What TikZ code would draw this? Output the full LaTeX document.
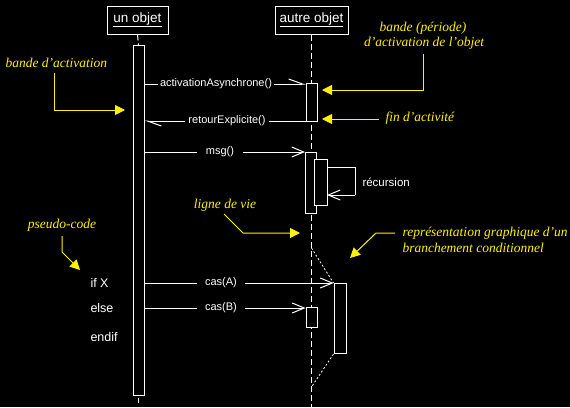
\documentclass[tikz,border=0pt]{standalone}
\usepackage{fontspec}
\setmainfont{Liberation Sans}
\newfontfamily\notefont{Liberation Serif}
\usetikzlibrary{arrows.meta}
\tikzset{
  objbox/.style={draw=white, text=white, inner sep=0pt, minimum height=28pt, font=\fontsize{13.5}{15}\selectfont},
  actbar/.style={draw=white, fill=black, inner sep=0pt, minimum width=11pt, anchor=north},
  msgtxt/.style={text=white, fill=black, inner ysep=1pt, font=\fontsize{11}{13}\selectfont},
  codetxt/.style={text=white, anchor=west, inner sep=0pt, font=\fontsize{12.5}{14}\selectfont},
  notetxt/.style={text=yellow, inner sep=0pt, font=\notefont\itshape\fontsize{13.5}{15}\selectfont},
  lifeline/.style={draw=white, dash pattern=on 6pt off 3pt},
  msgline/.style={draw=white, -{Straight Barb[length=12pt,width=10pt]}},
  asyncline/.style={draw=white, -{Straight Barb[left,length=14pt,width=10pt]}},
  pointer/.style={draw=yellow, -{Triangle[length=10pt,width=10pt]}},
  branch/.style={draw=white, line width=0.8pt, dash pattern=on 2pt off 2pt},
}
\begin{document}
\begin{tikzpicture}[x=1pt,y=-1pt,line width=1pt]
\fill[black] (0,0) rectangle (570,407);
\useasboundingbox (0,0) rectangle (570,407);

% objects
\node[objbox, minimum width=61pt] (o1) at (137.5,20) {\underline{un objet}};
\node[objbox, minimum width=73pt] (o2) at (311.5,20) {\underline{autre objet}};

% lifelines
\coordinate (l2end) at (311.5,407);
\draw[lifeline] (o2.south) -- (l2end);

% activation of un objet
\node[actbar, minimum height=350pt] (a1) at (138.5,45) {};
\draw[lifeline] (o1.south) -- (a1.north);
\coordinate (tickA) at (138.5,398);
\coordinate (tickB) at (138.5,403);
\draw[white] (tickA) -- (tickB);

% activations of autre objet
\node[actbar, minimum height=38pt] (b1) at (311.5,83) {};
\node[actbar, minimum height=61pt] (b2) at (311,152) {};
\node[actbar, minimum height=46pt, minimum width=13pt] (b3) at (320.5,159) {};
\node[actbar, minimum height=70pt, minimum width=12pt] (bA) at (340,283) {};
\node[actbar, minimum height=20pt] (bB) at (311.5,307) {};

% branch outline
\coordinate (brT) at (311.5,248);
\coordinate (brB) at (311.5,387);
\draw[branch] (brT) -- (bA.north west);
\draw[branch] (bA.south west) -- (brB);

% messages
\coordinate (m1) at (0,84);
\draw[asyncline] (a1.east |- m1) -- (b1.west |- m1);
\node[msgtxt, inner xsep=2pt] (t1) at (216,84) {activationAsynchrone()};

\coordinate (m2) at (0,121);
\draw[asyncline] (b1.west |- m2) -- (a1.east |- m2);
\node[msgtxt, inner xsep=3pt] (t2) at (227,121) {retourExplicite()};

\coordinate (m3) at (0,152);
\draw[msgline] (a1.east |- m3) -- (b2.north west);
\node[msgtxt, inner xsep=9pt] (t3) at (220,152) {msg()};

\coordinate (r1) at (327,167);
\coordinate (r2) at (355,167);
\coordinate (r3) at (355,195);
\coordinate (r4) at (327,195);
\draw[white] (r1) -- (r2) -- (r3);
\draw[msgline] (r3) -- (r4);
\node[text=white, anchor=west, inner sep=0pt, font=\fontsize{11.5}{13}\selectfont] (rec) at (362,182) {récursion};

\coordinate (m4) at (0,283);
\draw[msgline] (a1.east |- m4) -- (bA.north west);
\node[msgtxt, inner xsep=8pt] (t4) at (221,283) {cas(A)};

\coordinate (m5) at (0,308);
\draw[msgline] (a1.east |- m5) -- (bB.west |- m5);
\node[msgtxt, inner xsep=8pt] (t5) at (221,308) {cas(B)};

% pseudo-code
\node[codetxt] (c1) at (90,283) {if X};
\node[codetxt] (c2) at (90,308) {else};
\node[codetxt] (c3) at (90,337) {endif};

% notes
\node[notetxt, anchor=west] (n1) at (5,63) {bande d’activation};
\coordinate (n1a) at (54,73);
\coordinate (n1b) at (54,110);
\coordinate (n1c) at (125,110);
\draw[pointer] (n1a) -- (n1b) -- (n1c);

\node[notetxt] (n2a) at (423,28) {bande (période)};
\node[notetxt] (n2b) at (424,43) {d’activation de l’objet};
\coordinate (n2c) at (423,54);
\coordinate (n2d) at (423,90);
\coordinate (n2e) at (322,90);
\draw[pointer] (n2c) -- (n2d) -- (n2e);

\node[notetxt, anchor=west] (n3) at (385,118) {fin d’activité};
\coordinate (n3a) at (379,119);
\coordinate (n3b) at (322,119);
\draw[pointer] (n3a) -- (n3b);

\node[notetxt] (n4) at (225,205) {ligne de vie};
\coordinate (n4a) at (224,214);
\coordinate (n4b) at (243,233);
\coordinate (n4c) at (300,233);
\draw[pointer] (n4a) -- (n4b) -- (n4c);

\node[notetxt, anchor=west] (n5a) at (402,233) {représentation graphique d’un};
\node[notetxt, anchor=west] (n5b) at (402,248) {branchement conditionnel};
\coordinate (n5c) at (395,233);
\coordinate (n5d) at (376,233);
\coordinate (n5e) at (350,258);
\draw[pointer] (n5c) -- (n5d) -- (n5e);

\node[notetxt] (n6) at (62,225) {pseudo-code};
\coordinate (n6a) at (62,236);
\coordinate (n6b) at (62,252);
\coordinate (n6c) at (80,270);
\draw[pointer] (n6a) -- (n6b) -- (n6c);
\end{tikzpicture}
\end{document}
